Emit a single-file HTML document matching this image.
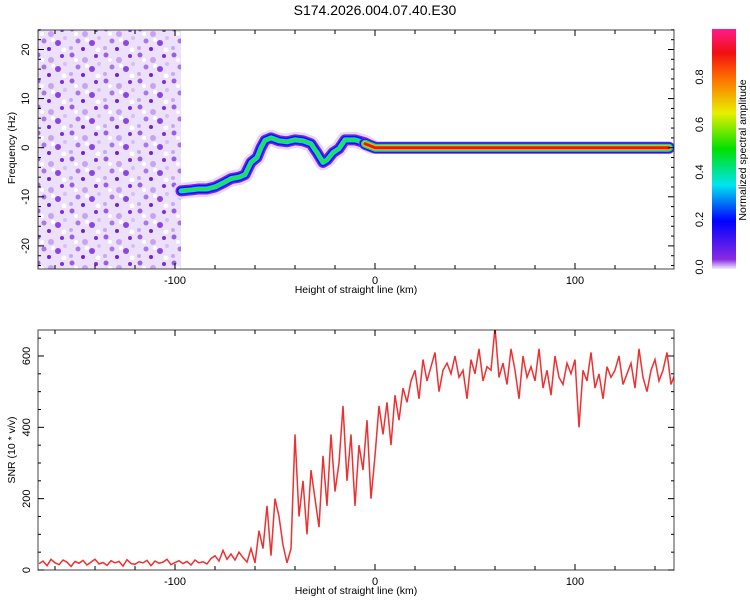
<!DOCTYPE html>
<html><head><meta charset="utf-8"><style>
body{margin:0;background:#fff;font-family:"Liberation Sans",sans-serif}
svg text{font-family:"Liberation Sans",sans-serif;fill:#000}
</style></head><body>
<svg id="c" width="750" height="600">
<defs>
<pattern id="noise" width="34" height="26" patternUnits="userSpaceOnUse">
<rect width="34" height="26" fill="#ede0fa"/>
<circle cx="4" cy="3" r="2.5" fill="#9a5ee6"/><circle cx="17" cy="8" r="3" fill="#c7a4f2"/>
<circle cx="28" cy="4" r="2" fill="#7c2ee0"/><circle cx="10" cy="15" r="2.5" fill="#a877ea"/>
<circle cx="24" cy="17" r="3" fill="#8a45e4"/><circle cx="3" cy="22" r="2" fill="#c9a8f3"/>
<circle cx="15" cy="23" r="2" fill="#6f22dc"/><circle cx="31" cy="12" r="2" fill="#d7bff6"/>
<circle cx="8" cy="8" r="2" fill="#fff"/><circle cx="30" cy="24" r="2.5" fill="#fff"/>
<circle cx="19" cy="14" r="2" fill="#fff"/>
</pattern>
<linearGradient id="cbar" x1="0" y1="1" x2="0" y2="0">
<stop offset="0" stop-color="#f4ecfd"/><stop offset="0.04" stop-color="#8a2be2"/>
<stop offset="0.2" stop-color="#0000ff"/><stop offset="0.35" stop-color="#00e5f0"/>
<stop offset="0.5" stop-color="#00e000"/><stop offset="0.65" stop-color="#e8f000"/>
<stop offset="0.8" stop-color="#ff6a00"/><stop offset="0.9" stop-color="#f01010"/>
<stop offset="1" stop-color="#ff1a8c"/>
</linearGradient>
<clipPath id="clipTop"><rect x="38" y="30" width="636" height="239"/></clipPath>
<clipPath id="clipBot"><rect x="38" y="330" width="636" height="240"/></clipPath>
</defs>
<text x="375" y="15" text-anchor="middle" font-size="14">S174.2026.004.07.40.E30</text>
<g id="topPanel"></g><g id="botPanel"></g>
<rect x="712" y="29" width="24" height="240" fill="url(#cbar)"/>
</svg>
<script>
const heights=[-97,-92,-88,-84,-80,-76,-72,-68,-65,-62,-59,-57,-55,-52,-48,-44,-40,-36,-32,-29,-26,-24,-21,-18,-15,-10,-5,-2];
const freqs=[-8.8,-8.6,-8.4,-8.4,-8,-7.2,-6.3,-6,-5.5,-3,-2,0,1.5,2,1.4,1.2,1.6,1.4,0.8,-1,-3,-2.5,-1,-0.2,1.6,1.6,1.0,0.3];
const lineH=[-5,0,20,60,100,147];
const lineF=[0.8,0,0,0,0,0];
const snrStart=-168, snrStep=2;
const snr=[18,25,12,30,20,15,28,22,10,24,19,27,14,22,30,17,21,13,26,20,24,11,29,18,16,23,20,27,12,25,19,22,30,15,21,26,18,24,14,28,20,23,17,32,
40,25,55,30,45,28,50,35,22,60,
20,110,60,180,40,200,150,70,20,60,
380,150,250,100,280,200,120,320,180,380,
220,300,460,250,380,180,350,280,420,200,
320,460,380,470,350,490,420,510,470,530,
560,480,590,530,570,610,500,560,580,550,
600,540,560,480,590,550,620,530,570,560,
680,540,580,520,620,560,480,600,540,570,
530,620,510,560,490,600,540,520,580,550,
590,400,560,530,610,510,550,480,570,540,
560,600,520,550,580,510,620,540,500,560,
590,530,560,610,520,550];
const xTicks=[-100,0,100];
const fTicks=[-20,-10,0,10,20];
const sTicks=[0,200,400,600];
const cTicks=[0,0.2,0.4,0.6,0.8];

const NS='http://www.w3.org/2000/svg';
const X=h=>38+(h+168.5)*2;
const YF=f=>147.7-f*4.91;
const YS=v=>570-v*0.3567;
const YC=v=>267-v*237.5;
function mk(tag,attrs,parent){const e=document.createElementNS(NS,tag);for(const k in attrs)e.setAttribute(k,attrs[k]);parent.appendChild(e);return e;}
const topG=document.getElementById('topPanel'), botG=document.getElementById('botPanel'), svgEl=document.getElementById('c');

const noise=mk('rect',{x:38,y:30,width:X(-97)-38,height:239,fill:'url(#noise)'},topG);


const tg=mk('g',{'clip-path':'url(#clipTop)'},topG);
const pts=heights.map((h,i)=>X(h)+','+YF(freqs[i])).join(' ');
const lpts=lineH.map((h,i)=>X(h)+','+YF(lineF[i])).join(' ');
[['#e6d6fa',16],['#7a22e0',11],['#1010f0',8],['#00d8e8',5],['#30e030',2.5]].forEach(([c,w])=>{
  const p=mk('polyline',{points:pts,fill:'none',stroke:c,'stroke-width':w,'stroke-linejoin':'round','stroke-linecap':'round'},tg);
  
  
});
[['#7a22e0',12],['#1010f0',10],['#00d8e8',8],['#20e020',6.5],['#e8f000',5],['#ff7000',4],['#f01010',2.5]].forEach(([c,w])=>{
  const p=mk('polyline',{points:lpts,fill:'none',stroke:c,'stroke-width':w,'stroke-linejoin':'round','stroke-linecap':'round'},tg);
  
  
});
const sp=snr.map((v,i)=>X(snrStart+i*snrStep)+','+YS(v)).join(' ');
const gb=mk('g',{'clip-path':'url(#clipBot)'},botG);
const sl=mk('polyline',{points:sp,fill:'none',stroke:'#ee3030','stroke-width':1.5},gb);



function frame(y0,h,parent){
  const r=mk('rect',{x:38,y:y0,width:636,height:h,fill:'none',stroke:'#444','stroke-width':1},parent);
  
  
  for(let v=-160;v<=140;v+=20){const x=X(v);const L=(v%100===0)?6:4;
    mk('line',{x1:x,x2:x,y1:y0,y2:y0+L,stroke:'#000'},parent);mk('line',{x1:x,x2:x,y1:y0+h,y2:y0+h-L,stroke:'#000'},parent);}
  xTicks.forEach(v=>{const t=mk('text',{x:X(v),y:y0+h+15,'text-anchor':'middle','font-size':11},parent);t.textContent=v;
    
    });
  const t=mk('text',{x:356,y:y0+h+24,'text-anchor':'middle','font-size':10.5},parent);t.textContent='Height of straight line (km)';
  
  
}
frame(30,239,topG); frame(330,240,botG);
for(let f=-24;f<=24;f+=2){const y=YF(f);const L=f%10===0?6:3;mk('line',{x1:38,x2:38+L,y1:y,y2:y,stroke:'#000'},topG);mk('line',{x1:674,x2:674-L,y1:y,y2:y,stroke:'#000'},topG);}
fTicks.forEach(f=>{const t=mk('text',{x:0,y:0,transform:`translate(29,${YF(f)}) rotate(-90)`,'text-anchor':'middle','font-size':11},topG);t.textContent=f;
  
  });
let yt=mk('text',{x:0,y:0,transform:'translate(15,148) rotate(-90)','text-anchor':'middle','font-size':10.5},topG);yt.textContent='Frequency (Hz)';


for(let v=0;v<=660;v+=50){const y=YS(v);const L=v%200===0?6:3;mk('line',{x1:38,x2:38+L,y1:y,y2:y,stroke:'#000'},botG);mk('line',{x1:674,x2:674-L,y1:y,y2:y,stroke:'#000'},botG);}
sTicks.forEach(v=>{const t=mk('text',{x:0,y:0,transform:`translate(30,${YS(v)}) rotate(-90)`,'text-anchor':'middle','font-size':11},botG);t.textContent=v;
  
  });
yt=mk('text',{x:0,y:0,transform:'translate(15,450) rotate(-90)','text-anchor':'middle','font-size':10.5},botG);yt.textContent='SNR (10 * v/v)';


cTicks.forEach(v=>{const t=mk('text',{x:0,y:0,transform:`translate(703,${YC(v)}) rotate(-90)`,'text-anchor':'middle','font-size':11},svgEl);t.textContent=v.toFixed(1);
  
  });
yt=mk('text',{x:0,y:0,transform:'translate(746,150) rotate(-90)','text-anchor':'middle','font-size':10.5},svgEl);yt.textContent='Normalized spectral amplitude';


</script>
</body></html>
